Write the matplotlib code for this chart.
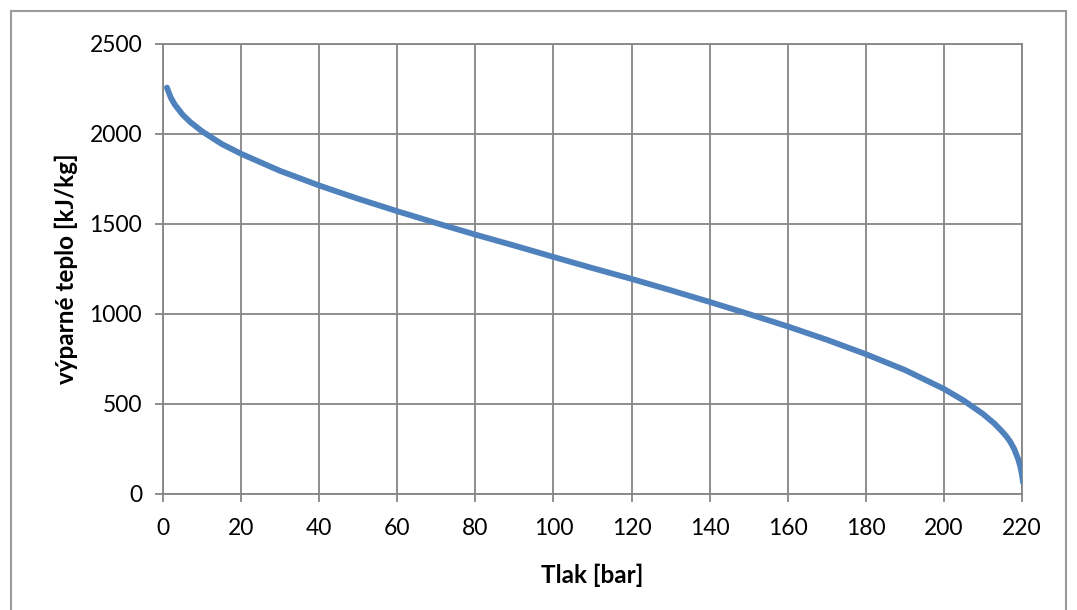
import matplotlib
matplotlib.use('Agg')
import matplotlib.pyplot as plt
from matplotlib.patches import Rectangle

# tlak [bar] a výparné teplo [kJ/kg]
tlak = [1, 2, 3, 5, 7, 10, 15, 20, 30, 40, 50, 60, 70, 80, 90, 100, 110, 120,
        130, 140, 150, 160, 170, 180, 190, 200, 205, 210, 213, 215, 216, 217,
        218, 219, 219.6, 220, 220.3]
teplo = [2258, 2202, 2164, 2108, 2066, 2015, 1945, 1890, 1795, 1714, 1640,
         1571, 1505, 1441, 1380, 1317, 1255, 1195, 1132, 1067, 1000, 931, 857,
         777, 689, 584, 520, 445, 390, 345, 320, 290, 250, 195, 150, 105, 62]

x_ticks = list(range(0, 221, 20))
y_ticks = list(range(0, 2501, 500))

grid_col = '#868686'
font = ['Lato', 'DejaVu Sans']

fig = plt.figure(figsize=(10.77, 6.10), dpi=100)
fig.patches.append(Rectangle((11 / 1077, -0.05), (1066 - 11) / 1077, 1.05 - 11 / 610,
                             transform=fig.transFigure, fill=False,
                             edgecolor='#9a9a9a', lw=1.5))
ax = fig.add_axes([163 / 1077, 1 - 494 / 610, (1022 - 163) / 1077, (494 - 44) / 610])

ax.plot(tlak, teplo, '-', color='#4F81BD', lw=4.2, solid_capstyle='round',
        solid_joinstyle='round', zorder=3)

ax.set_xlim(0, 220)
ax.set_ylim(0, 2500)
ax.set_xticks(x_ticks)
ax.set_yticks(y_ticks)
ax.grid(True, color=grid_col, lw=1.3)
for s in ax.spines.values():
    s.set_color(grid_col)
    s.set_linewidth(1.3)
ax.tick_params(direction='out', length=6, width=1.3, color=grid_col,
               labelsize=16.5)
ax.tick_params(axis='x', pad=11)
ax.tick_params(axis='y', pad=9)
for lab in ax.get_xticklabels() + ax.get_yticklabels():
    lab.set_family(font)

ax.set_xlabel('Tlak [bar]', fontsize=17.5, fontweight='bold', family=font, labelpad=18)
ax.set_ylabel('výparné teplo [kJ/kg]', fontsize=17.5, fontweight='bold', family=font, labelpad=8)

fig.savefig('out.png', dpi=100)
